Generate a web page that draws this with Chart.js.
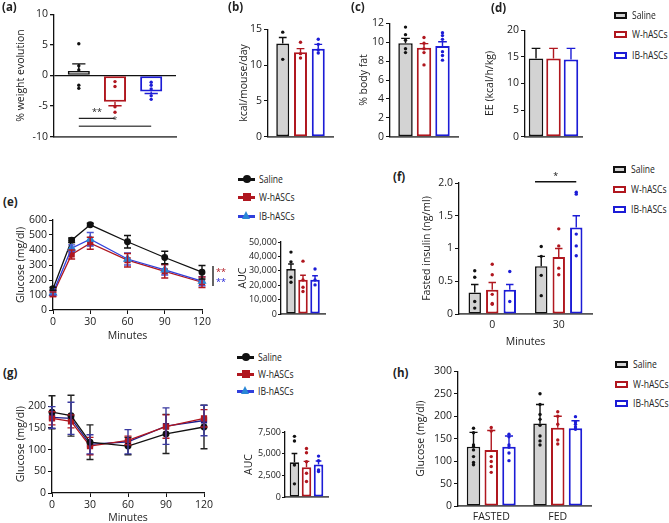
<!DOCTYPE html>
<html>
<head>
<meta charset="utf-8">
<script src="https://cdn.jsdelivr.net/npm/chart.js@4.4.1/dist/chart.umd.min.js"></script>
<style>
  body { margin: 0; width: 669px; height: 523px; position: relative; overflow: hidden; background: #fff;
         font-family: 'Open Sans', 'DejaVu Sans', sans-serif; color: #222; }
  canvas { position: absolute; }
  .tag { position: absolute; font-weight: bold; font-size: 11.5px; line-height: 16px; }
  .leg { position: absolute; font-size: 11px; line-height: 14px; white-space: nowrap; display: flex; align-items: center; }
  .tx { display: inline-block; transform: scaleX(0.78); transform-origin: left center; }
  .box { display: inline-block; width: 9px; height: 3px; border: 2px solid; margin-right: 5px; }
  .mk { position: relative; display: inline-block; width: 17px; height: 10px; margin-right: 4px; }
  .mk .ln { position: absolute; left: 0; right: 0; top: 4px; height: 2.5px; }
  .mk .pt { position: absolute; left: 5px; top: 1px; width: 8px; height: 8px; }
</style>
</head>
<body>
<script>
const GROUPS = ['Saline', 'W-hASCs', 'IB-hASCs'];
const COLORS = ['#111111', '#b0171f', '#1c1cd6'];
const FILLS = ['#d3d3d3', '#ffffff', '#ffffff'];

// (a) % weight evolution
const WEIGHT_MEAN = [0.75, -4.3, -2.6];
const WEIGHT_SEM = [1.15, 0.65, 0.35];
const WEIGHT_DOTS = [[5.2, 1.6, 0.9, -1.6, -2.1], [-1.0, -1.8, -5.1, -6.0], [-1.1, -1.6, -2.2, -3.3, -3.9]];
const SIG_A = [[0, 1, -7.0, '**'], [0, 2, -8.3, '*']];

// (b) kcal/mouse/day
const KCAL_MEAN = [13.0, 11.8, 12.3];
const KCAL_SEM = [0.85, 0.5, 0.6];
const KCAL_DOTS = [[14.6, 10.8], [13.2, 11.6, 11.0], [13.6, 12.9, 12.1, 11.7]];

// (c) % body fat
const FAT_MEAN = [9.9, 9.4, 9.6];
const FAT_SEM = [0.5, 0.45, 0.45];
const FAT_DOTS = [[11.6, 10.8, 10.2, 9.3, 8.9], [10.5, 9.9, 9.3, 8.9, 7.6], [11.0, 10.7, 10.3, 9.0, 8.6, 8.1]];

// (d) EE
const EE_MEAN = [14.7, 14.7, 14.5];
const EE_SEM = [1.9, 1.9, 2.1];

// (e) glucose tolerance
const MINUTES = [0, 15, 30, 60, 90, 120];
const GTT_SALINE = [142, 465, 568, 455, 350, 252];
const GTT_SALINE_SEM = [10, 15, 10, 42, 42, 45];
const GTT_W = [105, 370, 445, 332, 258, 185];
const GTT_W_SEM = [15, 30, 40, 45, 45, 35];
const GTT_IB = [115, 412, 472, 340, 268, 192];
const GTT_IB_SEM = [15, 22, 45, 40, 35, 30];
const GTT_SIG = [160, 293, 253, 187];
const GTT_AUC = [31200, 23800, 23800];
const GTT_AUC_SEM = [3500, 3100, 2800];
const GTT_AUC_DOTS = [[43000, 36200, 25500, 22000], [36700, 23600, 18600, 15600], [31200, 23600, 20200]];

// (f) fasted insulin
const INS_TIMES = ['0', '30'];
const INS_TICKS = ['0', '0.5', '1', '1.5', '2.0'];
const INS_SALINE = [0.33, 0.73];
const INS_W = [0.37, 0.87];
const INS_IB = [0.37, 1.32];
const INS_SEM = [[0.12, 0.15], [0.11, 0.13], [0.08, 0.18]];
const INS_DOTS = [
  [[0.66, 0.56, 0.19, 0.09], [1.03, 0.88, 0.59, 0.28]],
  [[0.76, 0.6, 0.3, 0.16, 0.15], [1.3, 1.04, 0.7, 0.6]],
  [[0.65, 0.19], [1.86, 1.83, 1.22, 1.04, 0.89]]
];
const SIG_F = [1, 0, 2, 2.02, '*'];

// (g) insulin tolerance
const ITT_SALINE = [186, 178, 117, 108, 136, 152];
const ITT_SALINE_SEM = [38, 47, 40, 20, 45, 50];
const ITT_W = [172, 165, 108, 121, 153, 172];
const ITT_W_SEM = [15, 15, 20, 10, 27, 20];
const ITT_IB = [174, 172, 112, 118, 154, 167];
const ITT_IB_SEM = [25, 37, 22, 28, 42, 35];
const ITT_AUC = [4000, 3430, 3750];
const ITT_AUC_SEM = [1020, 680, 400];
const ITT_AUC_DOTS = [[7000, 6470, 3690, 1520], [5600, 5100, 4070, 2740, 1790], [4720, 4190, 3120, 2930]];

// (h) glucose fasted / fed
const GLU_STATES = ['FASTED', 'FED'];
const GLU_SALINE = [132, 184];
const GLU_W = [125, 174];
const GLU_IB = [132, 173];
const GLU_SD = [[32, 42], [43, 26], [24, 17]];
const GLU_DOTS = [
  [[173, 163, 136, 132, 125, 110, 97, 92], [250, 226, 204, 193, 180, 156, 145, 136]],
  [[175, 167, 110, 99, 88, 75], [210, 200, 182, 147, 138]],
  [[160, 154, 136, 131, 118, 101], [199, 187, 182, 176, 171]]
];

Chart.defaults.font.family = "'Open Sans', 'DejaVu Sans', sans-serif";
Chart.defaults.font.size = 10.5;
Chart.defaults.color = '#222';
Chart.defaults.animation = false;
Chart.defaults.plugins.legend.display = false;
Chart.defaults.plugins.tooltip.enabled = false;

// error bars (one-sided on bars, two-sided on lines) and individual dots
const extras = {
  id: 'extras',
  afterDatasetsDraw(chart) {
    const { ctx } = chart;
    const y = chart.scales.y;
    chart.data.datasets.forEach((ds, i) => {
      const meta = chart.getDatasetMeta(i);
      meta.data.forEach((el, j) => {
        ctx.save();
        ctx.strokeStyle = ds.errColor || ds.borderColor;
        ctx.fillStyle = ds.borderColor;
        ctx.lineWidth = 1.4;
        if (meta.type === 'bar') {
          const v = ds.data[j], e = ds.err[j];
          const y0 = y.getPixelForValue(v);
          const y1 = y.getPixelForValue(v < 0 ? v - e : v + e);
          const cap = el.width * 0.3;
          ctx.beginPath();
          ctx.moveTo(el.x, y0); ctx.lineTo(el.x, y1);
          ctx.moveTo(el.x - cap, y1); ctx.lineTo(el.x + cap, y1);
          ctx.stroke();
          (ds.dots ? ds.dots[j] : []).forEach(d => {
            ctx.beginPath();
            ctx.arc(el.x, y.getPixelForValue(d), 1.7, 0, Math.PI * 2);
            ctx.fill();
          });
        } else {
          const v = ds.data[j].y, e = ds.err[j];
          const ya = y.getPixelForValue(v + e), yb = y.getPixelForValue(v - e);
          ctx.beginPath();
          ctx.moveTo(el.x, ya); ctx.lineTo(el.x, yb);
          ctx.moveTo(el.x - 3.5, ya); ctx.lineTo(el.x + 3.5, ya);
          ctx.moveTo(el.x - 3.5, yb); ctx.lineTo(el.x + 3.5, yb);
          ctx.stroke();
        }
        ctx.restore();
      });
    });
  }
};

function panel(area, yW, xH, padTop, padRight, config) {
  const c = document.createElement('canvas');
  const w = area[1] - area[0] + yW + padRight;
  const h = area[3] - area[2] + padTop + xH;
  c.width = w; c.height = h;
  c.style.left = (area[0] - yW) + 'px';
  c.style.top = (area[2] - padTop) + 'px';
  c.style.width = w + 'px';
  c.style.height = h + 'px';
  document.body.appendChild(c);
  config.options.responsive = false;
  config.options.layout = { padding: { top: padTop, right: padRight, left: 0, bottom: 0 } };
  config.plugins = [extras].concat(config.plugins || []);
  return new Chart(c, config);
}

function yAxis(min, max, step, title, yW, extra) {
  return Object.assign({
    min: min, max: max,
    ticks: { stepSize: step, padding: 2, autoSkip: false, includeBounds: false },
    grid: { display: true, drawOnChartArea: false, tickLength: 4, tickColor: '#111' },
    border: { display: true, color: '#111', width: 1.3 },
    title: { display: true, text: title, padding: { top: 0, bottom: 0 }, font: { size: 10.5 } },
    afterFit: s => { s.width = yW; }
  }, extra || {});
}

function catAxis(xH, showLabels) {
  return {
    ticks: { display: showLabels, padding: 5 },
    grid: { display: false, drawTicks: false },
    border: { display: true, color: '#555', width: 1.8 },
    afterFit: s => { s.height = xH; }
  };
}

function barSets(means, errs, dots) {
  return GROUPS.map((g, i) => ({
    label: g, data: means[i], err: errs[i], dots: dots ? dots[i] : null,
    backgroundColor: FILLS[i], borderColor: COLORS[i], borderWidth: i === 0 ? 1.6 : 2,
    borderSkipped: false
  }));
}

function single(arr) { return arr.map(v => [v]); }

function simpleBar(area, yW, xH, padTop, padRight, means, errs, dots, catPct, barPct, y, extraPlugins) {
  return panel(area, yW, xH, padTop, padRight, {
    type: 'bar',
    data: { labels: [''], datasets: barSets(single(means), single(errs), dots ? single(dots) : null) },
    options: {
      datasets: { bar: { categoryPercentage: catPct, barPercentage: barPct } },
      scales: { x: catAxis(xH, false), y: y }
    },
    plugins: extraPlugins || []
  });
}

function bracket(ctx, x0, x1, yy, label, color) {
  ctx.save();
  ctx.strokeStyle = color; ctx.fillStyle = color; ctx.lineWidth = 1.4;
  ctx.beginPath(); ctx.moveTo(x0, yy); ctx.lineTo(x1, yy); ctx.stroke();
  ctx.font = "9px 'Open Sans', sans-serif";
  ctx.textAlign = 'center'; ctx.textBaseline = 'bottom';
  ctx.fillText(label, (x0 + x1) / 2, yy - 1);
  ctx.restore();
}

// (a)
simpleBar([54, 176, 14, 137], 39, 8, 8, 4, WEIGHT_MEAN, WEIGHT_SEM, WEIGHT_DOTS, 0.89, 0.61,
  yAxis(-10, 10, 5, '% weight evolution', 39, {
    grid: { display: true, drawOnChartArea: true, tickLength: 4, tickColor: '#111', lineWidth: 1.3,
            color: c => c.tick && c.tick.value === 0 ? '#111' : 'rgba(0,0,0,0)' }
  }),
  [{
    id: 'sigA',
    afterDraw(chart) {
      SIG_A.forEach(([a, b, v, txt], k) => {
        const xa = chart.getDatasetMeta(a).data[0].x, xb = chart.getDatasetMeta(b).data[0].x;
        bracket(chart.ctx, xa, xb, chart.scales.y.getPixelForValue(v), txt, k === 0 ? '#222' : '#555');
      });
    }
  }]);

// (b)
simpleBar([268, 333, 29, 137], 30, 8, 8, 4, KCAL_MEAN, KCAL_SEM, KCAL_DOTS, 0.82, 0.73,
  yAxis(0, 15, 5, 'kcal/mouse/day', 30));

// (c)
simpleBar([390, 458, 23, 137], 32, 8, 8, 4, FAT_MEAN, FAT_SEM, FAT_DOTS, 0.816, 0.78,
  yAxis(0, 12, 2, '% body fat', 32));

// (d)
simpleBar([525, 582, 30, 137], 41, 8, 8, 4, EE_MEAN, EE_SEM, null, 0.92, 0.83,
  yAxis(0, 20, 5, 'EE (kcal/h/kg)', 41));

// line charts
function lineSet(label, ys, errs, color, ptColor, style, radius, errColor) {
  return {
    label: label, data: MINUTES.map((m, i) => ({ x: m, y: ys[i] })), err: errs,
    borderColor: color, backgroundColor: ptColor, pointBackgroundColor: ptColor, pointBorderColor: ptColor,
    errColor: errColor, borderWidth: 1.3, pointStyle: style, pointRadius: radius, clip: false
  };
}

function minuteAxis(xH) {
  return {
    type: 'linear', min: 0, max: 120,
    ticks: { stepSize: 30, padding: 2 },
    grid: { display: true, drawOnChartArea: false, tickLength: 4, tickColor: '#111' },
    border: { display: true, color: '#111', width: 1.3 },
    title: { display: true, text: 'Minutes', padding: { top: 0, bottom: 0 } },
    afterFit: s => { s.height = xH; }
  };
}

// (e)
panel([53, 202, 220, 310], 38, 32, 10, 26, {
  type: 'line',
  data: { datasets: [
    lineSet('IB-hASCs', GTT_IB, GTT_IB_SEM, '#3040dc', '#2a86d6', 'triangle', 4, '#4a55d0'),
    lineSet('W-hASCs', GTT_W, GTT_W_SEM, '#b0171f', '#b0171f', 'rect', 3.5, '#b0171f'),
    lineSet('Saline', GTT_SALINE, GTT_SALINE_SEM, '#111', '#111', 'circle', 2.8, '#111')
  ] },
  options: { scales: { x: minuteAxis(32), y: yAxis(0, 600, 100, 'Glucose (mg/dl)', 38) } },
  plugins: [{
    id: 'sigE',
    afterDraw(chart) {
      const { ctx, chartArea } = chart;
      const y = chart.scales.y;
      const x = chartArea.right + 11;
      ctx.save();
      ctx.strokeStyle = '#222'; ctx.lineWidth = 1.4;
      ctx.beginPath(); ctx.moveTo(x, y.getPixelForValue(GTT_SIG[1])); ctx.lineTo(x, y.getPixelForValue(GTT_SIG[0])); ctx.stroke();
      ctx.font = "9px 'Open Sans', sans-serif"; ctx.textBaseline = 'middle';
      ctx.fillStyle = COLORS[1]; ctx.fillText('**', x + 3, y.getPixelForValue(GTT_SIG[2]));
      ctx.fillStyle = COLORS[2]; ctx.fillText('**', x + 3, y.getPixelForValue(GTT_SIG[3]));
      ctx.restore();
    }
  }]
});

// (e) AUC
simpleBar([281, 325, 242, 314], 44, 8, 8, 4, GTT_AUC, GTT_AUC_SEM, GTT_AUC_DOTS, 0.82, 0.79,
  yAxis(0, 50000, 10000, 'AUC', 44, {
    ticks: { stepSize: 10000, padding: 1, autoSkip: false, font: { size: 9 } },
    grid: { display: true, drawOnChartArea: false, tickLength: 3, tickColor: '#111' }
  }));

// (f)
panel([459, 592, 183, 314], 38, 34, 16, 4, {
  type: 'bar',
  data: { labels: INS_TIMES, datasets: barSets([INS_SALINE, INS_W, INS_IB], INS_SEM, INS_DOTS) },
  options: {
    datasets: { bar: { categoryPercentage: 0.79, barPercentage: 0.71 } },
    scales: {
      x: Object.assign(catAxis(34, true), { title: { display: true, text: 'Minutes', padding: { top: 0, bottom: 0 } } }),
      y: yAxis(0, 2, 0.5, 'Fasted insulin (ng/ml)', 38, {
        ticks: { stepSize: 0.5, padding: 2, autoSkip: false, callback: (v, i) => INS_TICKS[i] }
      })
    }
  },
  plugins: [{
    id: 'sigF',
    afterDraw(chart) {
      const [cat, a, b, v, txt] = SIG_F;
      const ea = chart.getDatasetMeta(a).data[cat], eb = chart.getDatasetMeta(b).data[cat];
      bracket(chart.ctx, ea.x - ea.width / 2, eb.x, chart.scales.y.getPixelForValue(v), txt, '#111');
    }
  }]
});

// (g)
panel([52, 204, 395, 493], 37, 31, 8, 12, {
  type: 'line',
  data: { datasets: [
    lineSet('Saline', ITT_SALINE, ITT_SALINE_SEM, '#111', '#111', 'circle', 2.8, '#222'),
    lineSet('W-hASCs', ITT_W, ITT_W_SEM, '#b0171f', '#b0171f', 'rect', 3.5, '#b0171f'),
    lineSet('IB-hASCs', ITT_IB, ITT_IB_SEM, '#1d1d8c', '#1d1d8c', 'rect', 3.5, '#3a3aa0')
  ] },
  options: { scales: { x: minuteAxis(31), y: yAxis(0, 225, 50, 'Glucose (mg/dl)', 37) } }
});

// (g) AUC
simpleBar([285, 328, 432, 497], 42, 8, 8, 4, ITT_AUC, ITT_AUC_SEM, ITT_AUC_DOTS, 0.84, 0.79,
  yAxis(0, 7500, 2500, 'AUC', 42, {
    ticks: { stepSize: 2500, padding: 1, autoSkip: false, font: { size: 9 } },
    grid: { display: true, drawOnChartArea: false, tickLength: 3, tickColor: '#111' }
  }));

// (h)
panel([458, 591, 371, 506], 43, 20, 8, 4, {
  type: 'bar',
  data: { labels: GLU_STATES, datasets: barSets([GLU_SALINE, GLU_W, GLU_IB], GLU_SD, GLU_DOTS) },
  options: {
    datasets: { bar: { categoryPercentage: 0.8, barPercentage: 0.76 } },
    scales: { x: catAxis(20, true), y: yAxis(0, 300, 50, 'Glucose (mg/dl)', 43) }
  }
});

// panel tags
[['(a)', 2, 7], ['(b)', 228, 7], ['(c)', 351, 7], ['(d)', 491, 8], ['(e)', 3, 202],
 ['(f)', 393, 177], ['(g)', 3, 373], ['(h)', 393, 373]].forEach(([t, x, y]) => {
  const d = document.createElement('div');
  d.className = 'tag'; d.textContent = t;
  d.style.left = x + 'px'; d.style.top = (y - 8) + 'px';
  document.body.appendChild(d);
});

// legends
function barLegend(x, ys) {
  GROUPS.forEach((g, i) => {
    const d = document.createElement('div');
    d.className = 'leg';
    d.style.left = x + 'px'; d.style.top = (ys[i] - 7) + 'px';
    d.innerHTML = '<span class="box" style="background:' + FILLS[i] + ';border-color:' + COLORS[i] + '"></span><span class="tx">' + g + '</span>';
    document.body.appendChild(d);
  });
}

function lineLegend(x, ys, lineColors, ptColors) {
  const shapes = ['border-radius:50%', '', 'width:0;height:0;left:4px;top:0;border-left:4.5px solid transparent;border-right:4.5px solid transparent;border-bottom:8px solid '];
  GROUPS.forEach((g, i) => {
    const d = document.createElement('div');
    d.className = 'leg';
    d.style.left = x + 'px'; d.style.top = (ys[i] - 7) + 'px';
    const pt = i === 2
      ? '<span class="pt" style="' + shapes[2] + ptColors[i] + '"></span>'
      : '<span class="pt" style="background:' + ptColors[i] + ';' + shapes[i] + '"></span>';
    d.innerHTML = '<span class="mk"><span class="ln" style="background:' + lineColors[i] + '"></span>' + pt + '</span><span class="tx">' + g + '</span>';
    document.body.appendChild(d);
  });
}

barLegend(614, [15, 34, 55]);
barLegend(613, [169, 189, 209]);
barLegend(615, [364, 384, 403]);
lineLegend(238, [179, 197, 216], ['#111', '#b0171f', '#3040dc'], ['#111', '#b0171f', '#2a86d6']);
lineLegend(237, [357, 374, 391], ['#111', '#b0171f', '#3040dc'], ['#111', '#b0171f', '#2a86d6']);
</script>
</body>
</html>
